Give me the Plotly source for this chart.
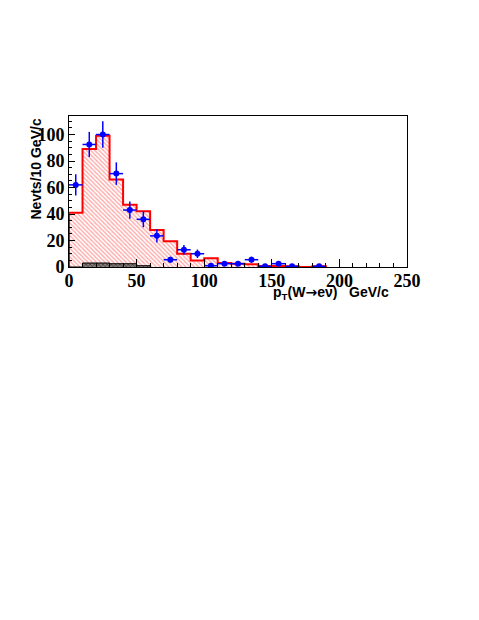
import numpy as np
import plotly.graph_objects as go

# red MC histogram (10 GeV/c bins starting at 0)
mc_counts = [41, 89, 99, 66, 47, 42, 28, 19.5, 10, 5, 6.6, 3, 2.5, 2, 0.8, 0.8, 0.5, 0, 0.5]
# black hatched background histogram
bkg_counts = [0, 3, 3, 2.5, 2.5, 1]
# blue data points
data_pt = [5, 15, 25, 35, 45, 55, 65, 75, 85, 95, 105, 115, 125, 135, 145, 155, 165, 185]
data_val = [62, 92.5, 100, 70.5, 43, 36, 23.5, 5.5, 13, 10, 1, 2.5, 2.5, 5.5, 0.5, 2.5, 0.5, 0.5]
data_err = [8, 9.5, 10, 8.5, 6.5, 6, 5, 2.3, 3.6, 3.2, 1, 1.6, 1.6, 2.3, 0.7, 1.6, 0.7, 0.7]

bw = 10
mc_edges = np.arange(len(mc_counts) + 1) * bw
mc_centers = mc_edges[:-1] + bw / 2
bkg_edges = np.arange(len(bkg_counts) + 1) * bw
bkg_centers = bkg_edges[:-1] + bw / 2

fig = go.Figure()

# hatched fill of MC
fig.add_trace(go.Bar(
    x=mc_centers, y=mc_counts, width=bw,
    marker=dict(color='rgba(0,0,0,0)', line=dict(width=0),
                pattern=dict(shape='\\', fgcolor='rgb(255,80,80)', bgcolor='rgba(0,0,0,0)',
                             size=3, solidity=0.45)),
    hoverinfo='skip'))

# MC outline
fig.add_trace(go.Scatter(
    x=np.concatenate([[0], mc_edges]), y=[0] + list(mc_counts) + [0],
    mode='lines', line=dict(color='red', width=2, shape='hv'), hoverinfo='skip'))

# background
fig.add_trace(go.Bar(
    x=bkg_centers, y=bkg_counts, width=bw,
    marker=dict(color='rgba(90,90,90,0.75)', line=dict(width=0),
                pattern=dict(shape='x', fgcolor='black', size=3, solidity=0.4)),
    hoverinfo='skip'))
fig.add_trace(go.Scatter(
    x=np.concatenate([[0], bkg_edges]), y=[0] + list(bkg_counts) + [0],
    mode='lines', line=dict(color='black', width=1, shape='hv'), hoverinfo='skip'))

# data
fig.add_trace(go.Scatter(
    x=data_pt, y=data_val, mode='markers',
    marker=dict(color='blue', size=6),
    error_y=dict(type='data', array=data_err, color='blue', thickness=1.5, width=0),
    error_x=dict(type='constant', value=bw / 2, color='blue', thickness=1.5, width=0)))

axis_common = dict(
    showgrid=False, zeroline=False, showline=True, linecolor='black', linewidth=1, mirror=True,
    ticks='inside', tickcolor='black',
    tickfont=dict(family='Liberation Serif', size=18, color='black', weight='bold'))

# page body has an 8px margin, so the figure is offset by 8px
fig.update_layout(
    width=471, height=612, showlegend=False, barmode='overlay', bargap=0,
    plot_bgcolor='white', paper_bgcolor='white',
    margin=dict(l=61, r=72, t=108, b=353),
    xaxis=dict(range=[0, 250], tickvals=[0, 50, 100, 150, 200, 250], ticklen=8,
               ticklabelstandoff=-3,
               minor=dict(ticks='inside', ticklen=4, dtick=10, tickcolor='black'), **axis_common),
    yaxis=dict(range=[0, 114], tickvals=[0, 20, 40, 60, 80, 100], ticklen=6,
               minor=dict(ticks='inside', ticklen=3, dtick=5, tickcolor='black'), **axis_common),
    annotations=[
        dict(text='p<sub>T</sub>(W<span style="font-family:DejaVu Sans">\u2192</span>e\u03bd)   GeV/c',
             xref='paper', yref='paper',
             x=(391 - 69) / 338, y=(267 - 293) / 151, xanchor='right', yanchor='middle',
             showarrow=False, font=dict(family='Liberation Sans', size=14, color='black', weight='bold')),
        dict(text='Nevts/10 GeV/c', xref='paper', yref='paper', textangle=-90,
             x=(35 - 69) / 338, y=(267 - 117) / 151, xanchor='center', yanchor='top',
             showarrow=False, font=dict(family='Liberation Sans', size=14, color='black', weight='bold')),
    ])

fig.write_html("out.html")
